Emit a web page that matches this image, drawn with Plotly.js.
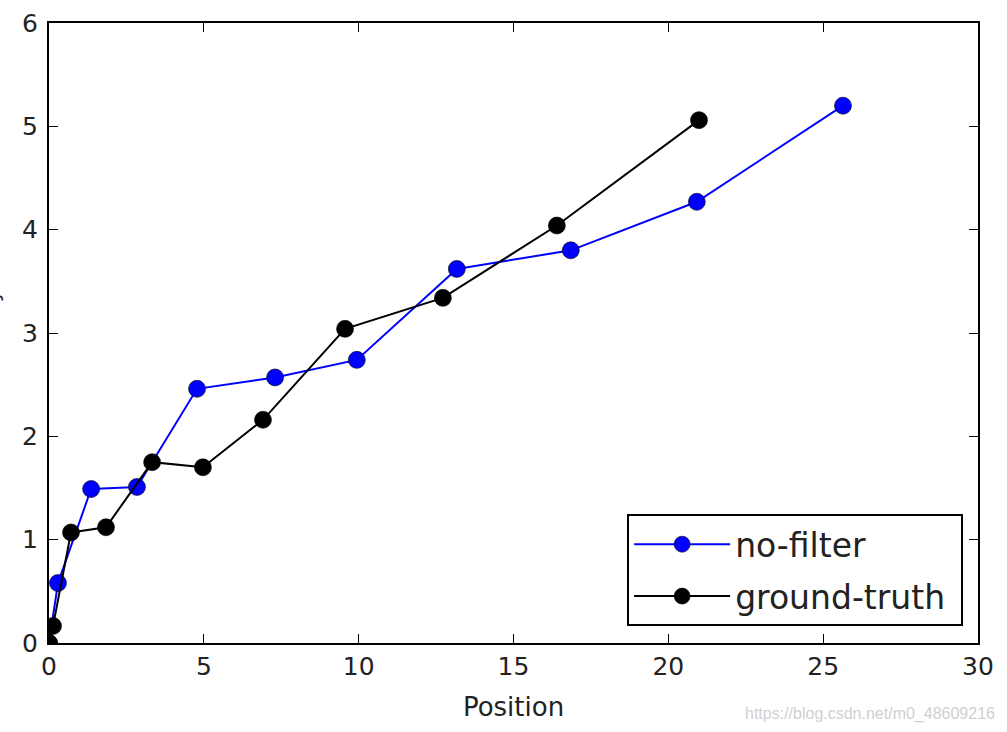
<!DOCTYPE html>
<html>
<head>
<meta charset="utf-8">
<script src="https://cdn.plot.ly/plotly-3.0.1.min.js"></script>
<style>
  html, body { margin: 0; padding: 0; background: #fff; }
  #plot { width: 1007px; height: 732px; }
</style>
</head>
<body>
<div id="plot"></div>
<script>
// no-filter estimate
var noFilterX = [0, 0.29, 1.36, 2.84, 4.78, 7.30, 9.94, 13.17, 16.85, 20.92, 25.64];
var noFilterY = [0, 0.58, 1.49, 1.51, 2.46, 2.57, 2.74, 3.62, 3.80, 4.27, 5.20];

// ground truth
var truthX = [0, 0.13, 0.71, 1.84, 3.33, 4.97, 6.91, 9.56, 12.72, 16.40, 20.99];
var truthY = [0, 0.165, 1.07, 1.12, 1.75, 1.70, 2.16, 3.04, 3.34, 4.04, 5.06];

var xTicks = [0, 5, 10, 15, 20, 25, 30];
var yTicks = [0, 1, 2, 3, 4, 5, 6];

var font = "DejaVu Sans, sans-serif";
var pad = "\u00a0"; // a bit of room on the right of the legend text

var trace1 = {
  x: noFilterX,
  y: noFilterY,
  name: "no-filter" + pad,
  legendgroup: "a",
  mode: "lines+markers",
  line: {color: "#0000ff", width: 2},
  marker: {color: "#0000ff", size: 17, line: {color: "#000000", width: 0.6}}
};

var trace2 = {
  x: truthX,
  y: truthY,
  name: "ground-truth" + pad,
  legendgroup: "b",
  mode: "lines+markers",
  line: {color: "#000000", width: 2},
  marker: {color: "#000000", size: 17, line: {color: "#000000", width: 0.6}}
};

var axisStyle = {
  showline: true,
  mirror: "ticks",
  linecolor: "#000",
  linewidth: 2,
  ticks: "inside",
  ticklen: 9,
  tickwidth: 1,
  tickcolor: "#000",
  showgrid: false,
  zeroline: false,
  tickfont: {family: font, size: 25, color: "#222"}
};

var layout = {
  width: 1007,
  height: 732,
  margin: {l: 49, r: 29, t: 23, b: 89},
  paper_bgcolor: "#fff",
  plot_bgcolor: "#fff",
  showlegend: true,
  xaxis: Object.assign({}, axisStyle, {
    range: [0, 30],
    tickvals: xTicks,
    title: {text: "Position", font: {family: font, size: 26, color: "#222"}, standoff: 18}
  }),
  yaxis: Object.assign({}, axisStyle, {
    range: [0, 6],
    tickvals: yTicks,
    ticklabelstandoff: 4
  }),
  legend: {
    x: 0.984, xanchor: "right",
    y: 0.027, yanchor: "bottom",
    bgcolor: "#fff",
    bordercolor: "#000",
    borderwidth: 2,
    font: {family: font, size: 33, color: "#222"},
    itemwidth: 96,
    tracegroupgap: 6
  },
  annotations: [
    {
      text: "Velocity",
      textangle: -90,
      xref: "paper", yref: "paper",
      x: -49 / 929, xanchor: "right", xshift: 5,
      y: 0.5, yanchor: "middle",
      showarrow: false,
      font: {family: font, size: 22, color: "#222"}
    },
    {
      text: "https://blog.csdn.net/m0_48609216",
      xref: "paper", yref: "paper",
      x: 1 + 19 / 929, xanchor: "right",
      y: -71 / 620, yanchor: "middle",
      showarrow: false,
      font: {family: "Liberation Sans, Arial, sans-serif", size: 16, color: "#d0d0d0"}
    }
  ]
};

Plotly.newPlot("plot", [trace1, trace2], layout, {displayModeBar: false});
</script>
</body>
</html>
